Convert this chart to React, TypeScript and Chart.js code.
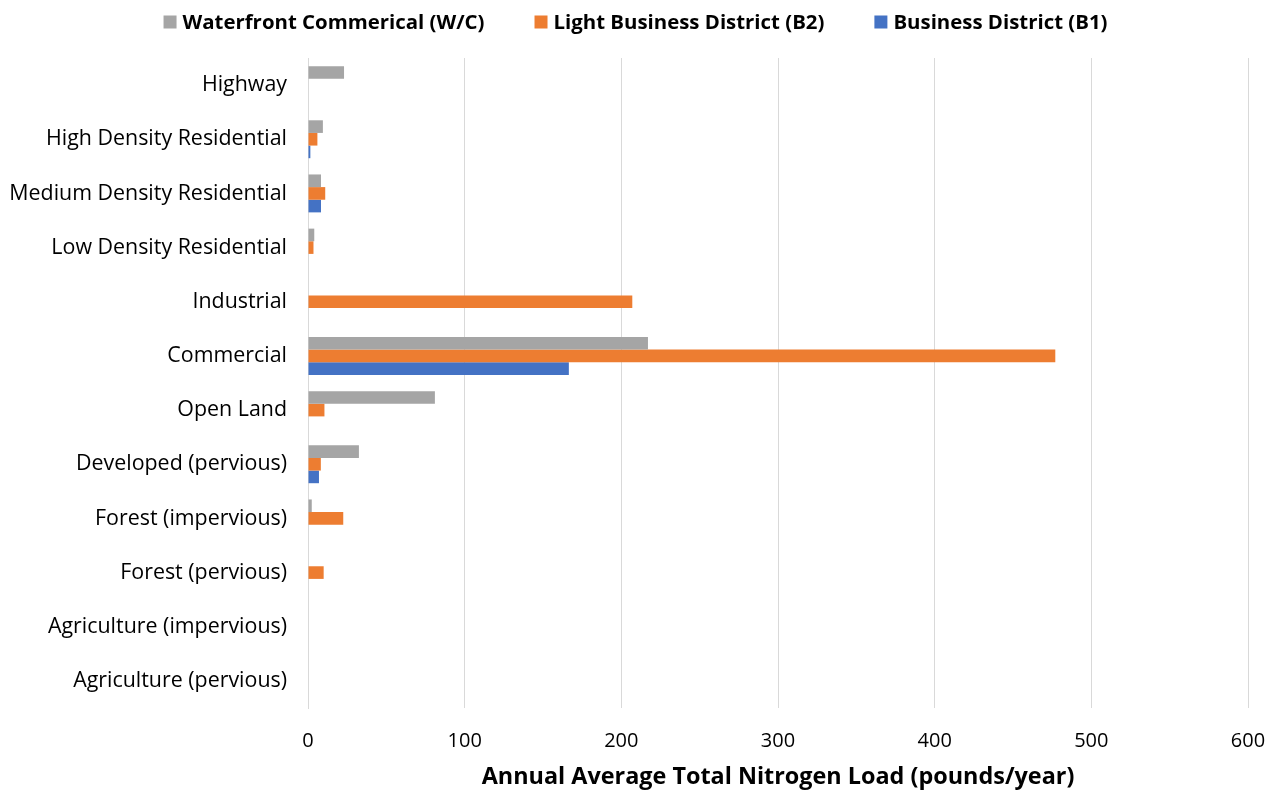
import React, { useEffect, useRef } from "react";
import { Chart, registerables } from "chart.js";

Chart.register(...registerables);

const categories = [
  "Highway",
  "High Density Residential",
  "Medium Density Residential",
  "Low Density Residential",
  "Industrial",
  "Commercial",
  "Open Land",
  "Developed (pervious)",
  "Forest (impervious)",
  "Forest (pervious)",
  "Agriculture (impervious)",
  "Agriculture (pervious)",
];

const seriesNames = [
  "Waterfront Commerical (W/C)",
  "Light Business District (B2)",
  "Business District (B1)",
];

const waterfrontWC = [23, 9.5, 8.3, 4, 0, 217, 81, 32.5, 2.4, 0, 0, 0];
const lightB2 = [0, 6, 11, 3.5, 207, 477, 10.5, 8.2, 22.5, 10, 0, 0];
const businessB1 = [0, 1.5, 8.3, 0, 0, 166.5, 0, 7, 0, 0, 0, 0];

const seriesColors = ["#a5a5a5", "#ed7d31", "#4472c4"];

const xTicks = [0, 100, 200, 300, 400, 500, 600];

const FONT = "'Open Sans', sans-serif";

// Legend row drawn across the top of the canvas
const topLegend = {
  id: "topLegend",
  afterDraw(chart: any) {
    const ctx = chart.ctx;
    const box = 13;
    const gapText = 6;
    const gapItem = 50;
    const cy = 22;
    ctx.save();
    ctx.font = `bold 20.4px ${FONT}`;
    ctx.textBaseline = "middle";
    ctx.textAlign = "left";
    const items = chart.data.datasets.map((ds: any) => ({
      label: ds.label as string,
      color: ds.backgroundColor as string,
      w: ctx.measureText(ds.label).width,
    }));
    const total =
      items.reduce((s: number, it: any) => s + box + gapText + it.w, 0) +
      gapItem * (items.length - 1);
    let x = (chart.width - total) / 2 - 4;
    for (const it of items) {
      ctx.fillStyle = it.color;
      ctx.fillRect(x, cy - box / 2, box, box);
      x += box + gapText;
      ctx.fillStyle = "#000";
      ctx.fillText(it.label, x, cy + 1);
      x += it.w + gapItem;
    }
    ctx.restore();
  },
};

export default function App() {
  const canvasRef = useRef<HTMLCanvasElement | null>(null);

  useEffect(() => {
    if (!canvasRef.current) return;
    const chart = new Chart(canvasRef.current, {
      type: "bar",
      data: {
        labels: categories,
        datasets: [
          { label: seriesNames[0], data: waterfrontWC, backgroundColor: seriesColors[0] },
          { label: seriesNames[1], data: lightB2, backgroundColor: seriesColors[1] },
          { label: seriesNames[2], data: businessB1, backgroundColor: seriesColors[2] },
        ],
      },
      options: {
        indexAxis: "y",
        responsive: false,
        animation: false,
        layout: { padding: { top: 58, right: 31, bottom: 0, left: 0 } },
        datasets: {
          bar: { categoryPercentage: 0.7, barPercentage: 1.0, borderWidth: 0 },
        },
        plugins: {
          legend: { display: false },
          tooltip: { enabled: false },
        },
        scales: {
          x: {
            type: "linear",
            min: 0,
            max: 600,
            afterBuildTicks: (scale: any) => {
              scale.ticks = xTicks.map((v) => ({ value: v }));
            },
            afterFit: (scale: any) => {
              scale.height = 86;
              scale.paddingLeft = 0;
              scale.paddingRight = 0;
            },
            grid: { color: "#d9d9d9", lineWidth: 1, drawTicks: false },
            border: { display: false },
            ticks: {
              padding: 21,
              color: "#000",
              font: { family: FONT, size: 20 },
            },
            title: {
              display: true,
              text: "Annual Average Total Nitrogen Load (pounds/year)",
              color: "#000",
              font: { family: FONT, size: 23.4, weight: "bold" },
              padding: { top: 10, bottom: 3 },
            },
          },
          y: {
            type: "category",
            afterFit: (scale: any) => {
              scale.width = 308;
            },
            grid: { display: false, drawTicks: false },
            border: { display: true, color: "#d9d9d9", width: 1 },
            ticks: {
              padding: 21,
              color: "#000",
              font: { family: FONT, size: 21.4 },
              autoSkip: false,
            },
          },
        },
      },
      plugins: [topLegend],
    });
    return () => chart.destroy();
  }, []);

  return (
    <div style={{ position: "absolute", left: 0, top: 0, width: 1279, height: 794, background: "#fff" }}>
      <canvas ref={canvasRef} width={1279} height={794} />
    </div>
  );
}
